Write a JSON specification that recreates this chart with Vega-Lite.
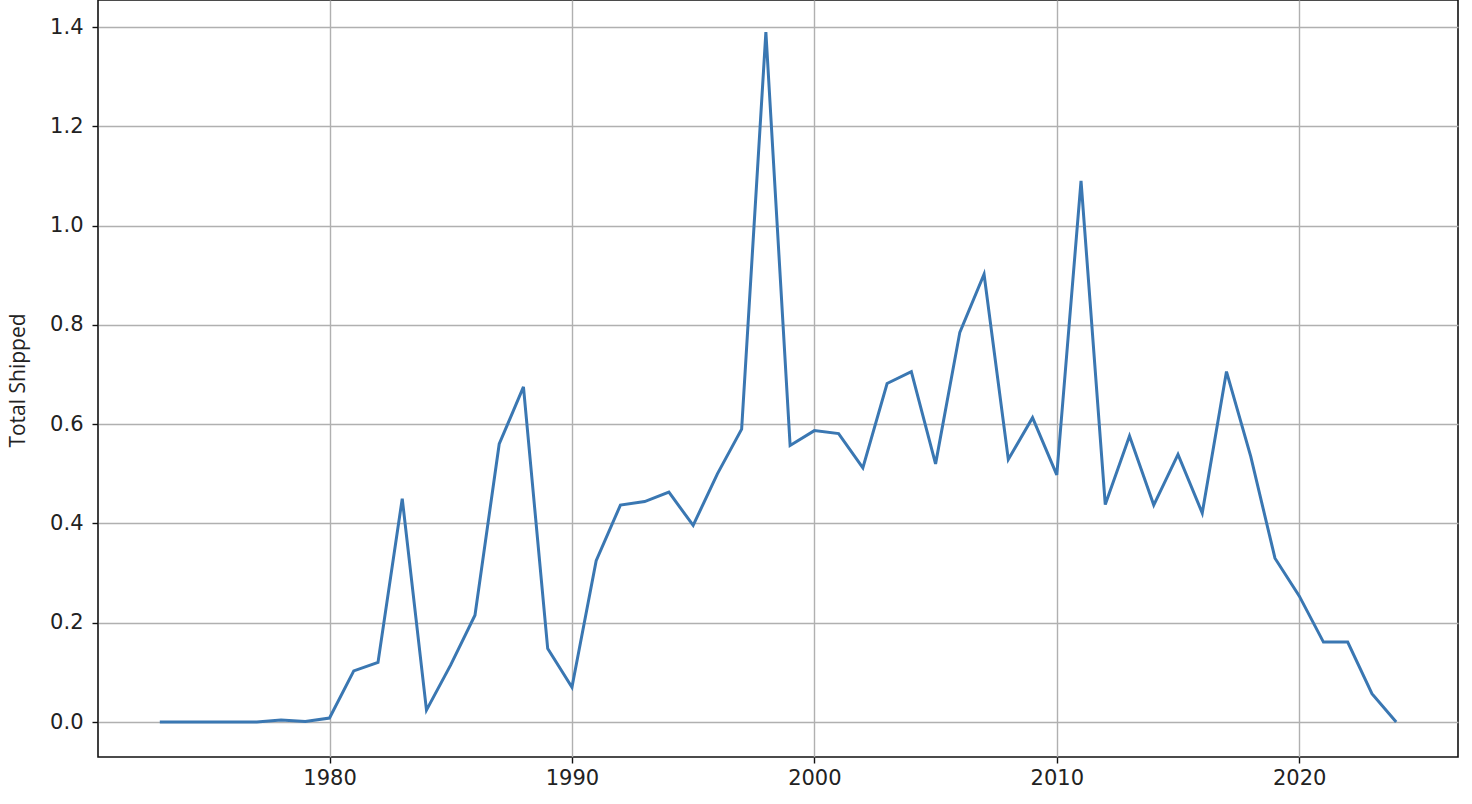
{
  "$schema": "https://vega.github.io/schema/vega-lite/v6.json",
  "autosize": {"type": "none"},
  "padding": {"left": 98, "top": 0, "right": 14, "bottom": 47},
  "width": 1360,
  "height": 757,
  "background": "white",
  "config": {
    "view": {"stroke": "#111111", "strokeWidth": 1.6},
    "axis": {
      "domain": false,
      "grid": true,
      "gridColor": "#b0b0b0",
      "gridWidth": 1.4,
      "tickColor": "#111111",
      "tickSize": 6,
      "tickWidth": 1.4,
      "labelFont": "DejaVu Sans",
      "labelFontSize": 21,
      "labelColor": "#222222"
    }
  },
  "data": {
    "values": [
      {"year": 1973, "shipped": 0.0},
      {"year": 1974, "shipped": 0.0},
      {"year": 1975, "shipped": 0.0},
      {"year": 1976, "shipped": 0.0},
      {"year": 1977, "shipped": 0.0},
      {"year": 1978, "shipped": 0.004},
      {"year": 1979, "shipped": 0.001},
      {"year": 1980, "shipped": 0.008},
      {"year": 1981, "shipped": 0.103},
      {"year": 1982, "shipped": 0.12},
      {"year": 1983, "shipped": 0.45},
      {"year": 1984, "shipped": 0.024},
      {"year": 1985, "shipped": 0.115},
      {"year": 1986, "shipped": 0.215},
      {"year": 1987, "shipped": 0.56},
      {"year": 1988, "shipped": 0.675},
      {"year": 1989, "shipped": 0.148},
      {"year": 1990, "shipped": 0.07},
      {"year": 1991, "shipped": 0.325},
      {"year": 1992, "shipped": 0.437},
      {"year": 1993, "shipped": 0.444},
      {"year": 1994, "shipped": 0.463},
      {"year": 1995, "shipped": 0.396},
      {"year": 1996, "shipped": 0.5},
      {"year": 1997, "shipped": 0.59},
      {"year": 1998, "shipped": 1.39},
      {"year": 1999, "shipped": 0.557},
      {"year": 2000, "shipped": 0.587},
      {"year": 2001, "shipped": 0.581},
      {"year": 2002, "shipped": 0.512},
      {"year": 2003, "shipped": 0.682},
      {"year": 2004, "shipped": 0.706},
      {"year": 2005, "shipped": 0.52},
      {"year": 2006, "shipped": 0.785},
      {"year": 2007, "shipped": 0.902},
      {"year": 2008, "shipped": 0.529},
      {"year": 2009, "shipped": 0.613},
      {"year": 2010, "shipped": 0.498},
      {"year": 2011, "shipped": 1.09},
      {"year": 2012, "shipped": 0.438},
      {"year": 2013, "shipped": 0.576},
      {"year": 2014, "shipped": 0.437},
      {"year": 2015, "shipped": 0.539},
      {"year": 2016, "shipped": 0.421},
      {"year": 2017, "shipped": 0.706},
      {"year": 2018, "shipped": 0.535},
      {"year": 2019, "shipped": 0.33},
      {"year": 2020, "shipped": 0.254},
      {"year": 2021, "shipped": 0.161},
      {"year": 2022, "shipped": 0.161},
      {"year": 2023, "shipped": 0.057},
      {"year": 2024, "shipped": 0.0}
    ]
  },
  "mark": {"type": "line", "color": "#3a77b2", "strokeWidth": 3, "clip": true},
  "encoding": {
    "x": {
      "field": "year",
      "type": "quantitative",
      "scale": {"domain": [1970.45, 2026.55], "nice": false, "zero": false},
      "axis": {
        "title": null,
        "values": [1980, 1990, 2000, 2010, 2020],
        "format": "d",
        "labelPadding": 4
      }
    },
    "y": {
      "field": "shipped",
      "type": "quantitative",
      "scale": {"domain": [-0.0705, 1.4545], "nice": false, "zero": false},
      "axis": {
        "title": "Total Shipped",
        "titleFont": "Open Sans",
        "titleFontSize": 21,
        "titleFontWeight": "normal",
        "titleColor": "#222222",
        "titleX": -80,
        "titleY": 380,
        "titleAngle": -90,
        "titleAlign": "center",
        "titleBaseline": "middle",
        "values": [0, 0.2, 0.4, 0.6, 0.8, 1.0, 1.2, 1.4],
        "format": ".1f",
        "labelPadding": 9
      }
    }
  }
}
